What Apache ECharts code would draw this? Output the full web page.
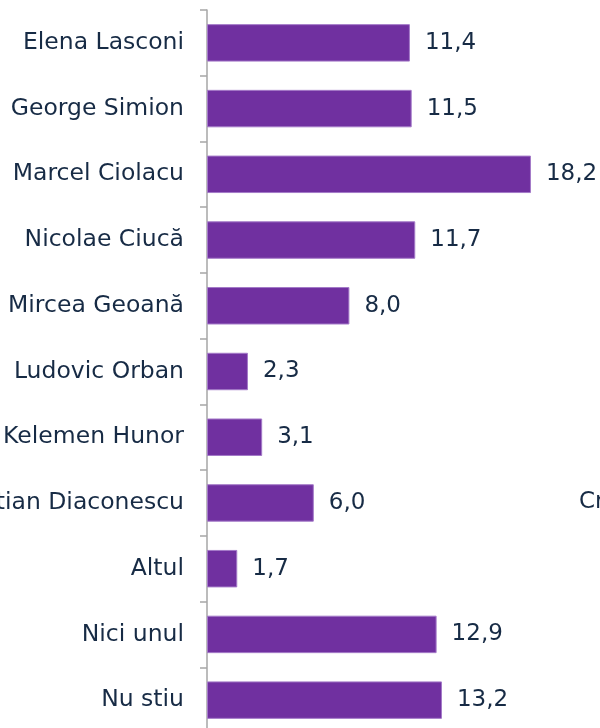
<!DOCTYPE html>
<html><head><meta charset="utf-8">
<script src="https://cdn.jsdelivr.net/npm/echarts@6/dist/echarts.min.js"></script>
<style>html,body{margin:0;padding:0;background:#fff}#c{width:600px;height:728px}</style>
</head><body><div id="c"></div>
<script>
const categories = ["Elena Lasconi","George Simion","Marcel Ciolacu","Nicolae Ciucă","Mircea Geoană","Ludovic Orban","Kelemen Hunor","Cristian Diaconescu","Altul","Nici unul","Nu stiu"];
const values = [11.4,11.5,18.2,11.7,8.0,2.3,3.1,6.0,1.7,12.9,13.2];
const sideText = "Cristian";

const chart = echarts.init(document.getElementById('c'), null, {renderer:'canvas'});
const textColor = '#172b45';
chart.setOption({
  animation:false,
  grid:{left:207, top:10, width:356, height:723, containLabel:false, outerBoundsMode:'none'},
  xAxis:{type:'value', min:0, max:20, show:false},
  yAxis:{type:'category', inverse:true, data:categories,
    axisLine:{show:true, lineStyle:{color:'#a6a6a6', width:1.5}},
    axisTick:{show:true, length:7, alignWithLabel:false, interval:0, lineStyle:{color:'#a6a6a6', width:1.5}},
    axisLabel:{margin:23, interval:0, color:textColor, fontFamily:'DejaVu Sans', fontSize:23.5}
  },
  series:[{type:'bar', data:values, barWidth:'57%',
    itemStyle:{color:'#7030a0', borderColor:'#a47ac8', borderWidth:1},
    label:{show:true, position:'right', distance:15, color:textColor, fontFamily:'DejaVu Sans', fontSize:23,
      formatter:p=>p.value.toFixed(1).replace('.',',')}
  }],
  graphic:[{type:'text', left:579, top:491, style:{text:sideText, fill:textColor, font:'23px "DejaVu Sans"'}}]
});
</script></body></html>
